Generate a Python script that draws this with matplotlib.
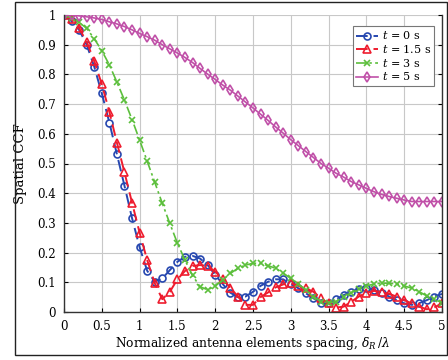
import matplotlib
matplotlib.use("Agg")
import matplotlib.pyplot as plt
import numpy as np
from matplotlib.patches import Rectangle

# spacing delta_R / lambda, step 0.1
spacing = np.round(np.arange(0, 5.01, 0.1), 1)

ccf_t0 = [1.0, 0.979, 0.95, 0.90, 0.826, 0.736, 0.638, 0.531, 0.425, 0.316,
          0.218, 0.139, 0.102, 0.113, 0.141, 0.169, 0.186, 0.189, 0.18, 0.158,
          0.125, 0.094, 0.065, 0.05, 0.052, 0.068, 0.088, 0.102, 0.11, 0.11,
          0.094, 0.08, 0.063, 0.046, 0.031, 0.029, 0.043, 0.057, 0.068, 0.078,
          0.082, 0.074, 0.065, 0.052, 0.04, 0.029, 0.024, 0.03, 0.04, 0.052,
          0.061]
ccf_t15 = [1.0, 0.985, 0.955, 0.91, 0.845, 0.767, 0.674, 0.57, 0.47, 0.368,
           0.267, 0.175, 0.097, 0.043, 0.068, 0.11, 0.138, 0.155, 0.158, 0.155,
           0.136, 0.11, 0.082, 0.052, 0.024, 0.024, 0.05, 0.066, 0.083, 0.093,
           0.097, 0.088, 0.08, 0.068, 0.046, 0.029, 0.015, 0.018, 0.035, 0.052,
           0.065, 0.071, 0.068, 0.061, 0.052, 0.04, 0.029, 0.018, 0.009, 0.016,
           0.029]
ccf_t3 = [1.0, 0.99, 0.975, 0.955, 0.92, 0.88, 0.832, 0.774, 0.713, 0.648,
          0.579, 0.508, 0.437, 0.366, 0.298, 0.232, 0.175, 0.123, 0.085, 0.075,
          0.087, 0.108, 0.13, 0.147, 0.158, 0.164, 0.164, 0.156, 0.147, 0.131,
          0.113, 0.094, 0.074, 0.052, 0.035, 0.031, 0.035, 0.052, 0.065, 0.076,
          0.088, 0.094, 0.097, 0.097, 0.094, 0.088, 0.08, 0.068, 0.054, 0.043,
          0.031]
ccf_t5 = [1.0, 1.0, 0.997, 0.994, 0.99, 0.985, 0.977, 0.97, 0.961, 0.95,
          0.938, 0.927, 0.915, 0.9, 0.886, 0.872, 0.857, 0.84, 0.82, 0.801,
          0.783, 0.764, 0.747, 0.727, 0.707, 0.687, 0.666, 0.645, 0.623, 0.602,
          0.58, 0.56, 0.54, 0.52, 0.5, 0.484, 0.467, 0.454, 0.439, 0.428,
          0.416, 0.405, 0.396, 0.389, 0.383, 0.377, 0.372, 0.372, 0.372, 0.372,
          0.372]

labels = [r"$t$ = 0 s", r"$t$ = 1.5 s", r"$t$ = 3 s", r"$t$ = 5 s"]

plt.rcParams['font.family'] = ['DejaVu Serif']
plt.rcParams['mathtext.fontset'] = 'dejavuserif'

fig = plt.figure(figsize=(4.48, 3.6), dpi=100)
ax = fig.add_axes([64 / 448, 1 - 312 / 360, 378 / 448, 297 / 360])

ax.plot(spacing, ccf_t0, color='#2748b0', ls=(0, (6, 3)), lw=1.4, marker='o',
        ms=5, mfc='none', mew=1.2, label=labels[0])
ax.plot(spacing, ccf_t15, color='#ee1c2e', ls=(0, (6, 3)), lw=1.4, marker='^',
        ms=6, mfc='none', mew=1.2, label=labels[1])
ax.plot(spacing, ccf_t3, color='#5cbf3c', ls=(0, (6, 2, 1.5, 2)), lw=1.2,
        marker='x', ms=4, mew=1.2, label=labels[2])
ax.plot(spacing, ccf_t5, color='#c050a8', ls='-', lw=1.2, marker='d',
        ms=5.5, mfc='none', mew=1.2, label=labels[3])

ax.set_xlim(0, 5)
ax.set_ylim(0, 1)
ax.set_xticks(np.arange(0, 5.01, 0.5))
ax.set_xticklabels(["0", "0.5", "1", "1.5", "2", "2.5", "3", "3.5", "4", "4.5", "5"])
ax.set_yticks(np.arange(0, 1.01, 0.1))
ax.set_yticklabels(["0", "0.1", "0.2", "0.3", "0.4", "0.5", "0.6", "0.7", "0.8", "0.9", "1"])
ax.grid(True, color='#c8c8c8', lw=0.8)
ax.set_axisbelow(True)
ax.spines['top'].set_visible(False)
for s in ['left', 'right', 'bottom']:
    ax.spines[s].set_color('#333333')
    ax.spines[s].set_linewidth(1.0)
ax.tick_params(direction='in', length=3, labelsize=8.5, right=True, pad=6)
ax.set_xlabel(r"Normalized antenna elements spacing, $\delta_R\,/\lambda$", fontsize=8.8, labelpad=1)
ax.set_ylabel("Spatial CCF", fontsize=9.5, labelpad=7)

leg = ax.legend(loc='upper right', bbox_to_anchor=(0.985, 0.97), fontsize=8,
                handlelength=2.0, handletextpad=0.3, borderpad=0.3, labelspacing=0.15,
                borderaxespad=0.2, fancybox=False, framealpha=1, edgecolor='#777777')
leg.get_frame().set_linewidth(0.8)

fig.patches.append(Rectangle((15 / 448, 1 - 355 / 360), 432 / 448, 353 / 360,
                             transform=fig.transFigure, fill=False, lw=1.0,
                             edgecolor='#222222'))

fig.savefig("out.png", dpi=100)
